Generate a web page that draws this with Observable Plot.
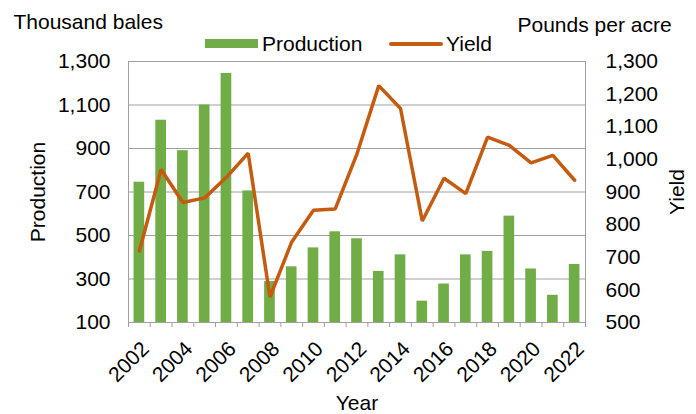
<!DOCTYPE html>
<html>
<head>
<meta charset="utf-8">
<script src="https://cdn.jsdelivr.net/npm/d3@7"></script>
<script src="https://cdn.jsdelivr.net/npm/@observablehq/plot@0.6"></script>
<style>
  html, body { margin: 0; padding: 0; background: #fff; }
  #wrap { position: relative; width: 696px; height: 414px; font-family: "Liberation Sans", Arial, sans-serif; color: #000; }
  .lg { position: absolute; font-size: 21px; line-height: 21px; white-space: nowrap; }
</style>
</head>
<body>
<div id="wrap">
  <div class="lg" style="left:205px;top:39px;width:53px;height:9px;background:#70AD47"></div>
  <div class="lg" style="left:262px;top:33px;">Production</div>
  <div class="lg" style="left:389px;top:42px;width:54px;height:3.5px;background:#C55A11;border-radius:2px"></div>
  <div class="lg" style="left:446px;top:33px;">Yield</div>
</div>
<script>
const years = [2002,2003,2004,2005,2006,2007,2008,2009,2010,2011,2012,2013,2014,2015,2016,2017,2018,2019,2020,2021,2022];
const production = [745,1030,890,1100,1245,705,288,356,443,517,485,335,411,198,277,411,427,589,346,225,367];
const yieldLbs = [719,969,868,882,945,1019,578,747,844,848,1017,1226,1156,811,942,895,1068,1043,989,1012,936];
const prodTicks = [100,300,500,700,900,1100,1300];
const yieldTicks = [500,600,700,800,900,1000,1100,1200,1300];
const labelYears = [2002,2004,2006,2008,2010,2012,2014,2016,2018,2020,2022];

// map yield (500..1300) onto production scale (100..1300)
const toProd = v => 100 + (v - 500) * 1.5;
const fromProd = v => 500 + (v - 100) / 1.5;

const data = years.map((y, i) => ({year: y, production: production[i], yield: yieldLbs[i]}));
const bounds = years.map(y => y - 0.5).concat([years[years.length - 1] + 0.5]);
const fmt = d3.format(",");

const chart = Plot.plot({
  width: 696,
  height: 414,
  marginTop: 61,
  marginBottom: 92,
  marginLeft: 128,
  marginRight: 111,
  style: {fontFamily: "'Liberation Sans', Arial, sans-serif", fontSize: "21px", color: "#000", background: "#fff"},
  x: {domain: [2001.5, 2022.5]},
  y: {domain: [100, 1300]},
  marks: [
    Plot.gridY(prodTicks, {stroke: "#a0a0a0", strokeOpacity: 1}),
    Plot.rectY(data, {x1: d => d.year - 0.245, x2: d => d.year + 0.245, y1: 100, y2: "production", fill: "#70AD47"}),
    Plot.frame({stroke: "#a0a0a0"}),
    Plot.axisX({ticks: bounds, tickFormat: () => "", tickSize: 5, stroke: "#a0a0a0", label: null}),
    Plot.axisX({ticks: labelYears, tickFormat: d => String(d), tickSize: 0, tickPadding: 23, dx: 6, tickRotate: -45, label: null, fontSize: 21}),
    Plot.axisY({anchor: "left", ticks: prodTicks, tickFormat: fmt, tickSize: 0, tickPadding: 18, label: null, fontSize: 21}),
    Plot.axisY({anchor: "right", ticks: yieldTicks.map(toProd), tickFormat: d => fmt(Math.round(fromProd(d))), tickSize: 0, tickPadding: 20, label: null, fontSize: 21}),
    Plot.line(data, {x: "year", y: d => toProd(d.yield), stroke: "#C55A11", strokeWidth: 3.5, strokeLinejoin: "miter"}),
    Plot.text(["Production"], {frameAnchor: "left", dx: -90, rotate: -90, fontSize: 21, textAnchor: "middle", lineAnchor: "middle"}),
    Plot.text(["Yield"], {frameAnchor: "right", dx: 92, rotate: -90, fontSize: 21, textAnchor: "middle", lineAnchor: "middle"}),
    Plot.text(["Year"], {frameAnchor: "bottom", dy: 81, fontSize: 21, textAnchor: "middle", lineAnchor: "middle"}),
    Plot.text(["Thousand bales"], {frameAnchor: "top-left", dx: -115, dy: -39, textAnchor: "start", fontSize: 21, lineAnchor: "middle"}),
    Plot.text(["Pounds per acre"], {frameAnchor: "top-right", dx: -68, dy: -36, textAnchor: "start", fontSize: 21, lineAnchor: "middle"})
  ]
});
chart.style.position = "absolute";
chart.style.left = "0px";
chart.style.top = "0px";
const wrap = document.getElementById("wrap");
wrap.insertBefore(chart, wrap.firstChild);
</script>
</body>
</html>
